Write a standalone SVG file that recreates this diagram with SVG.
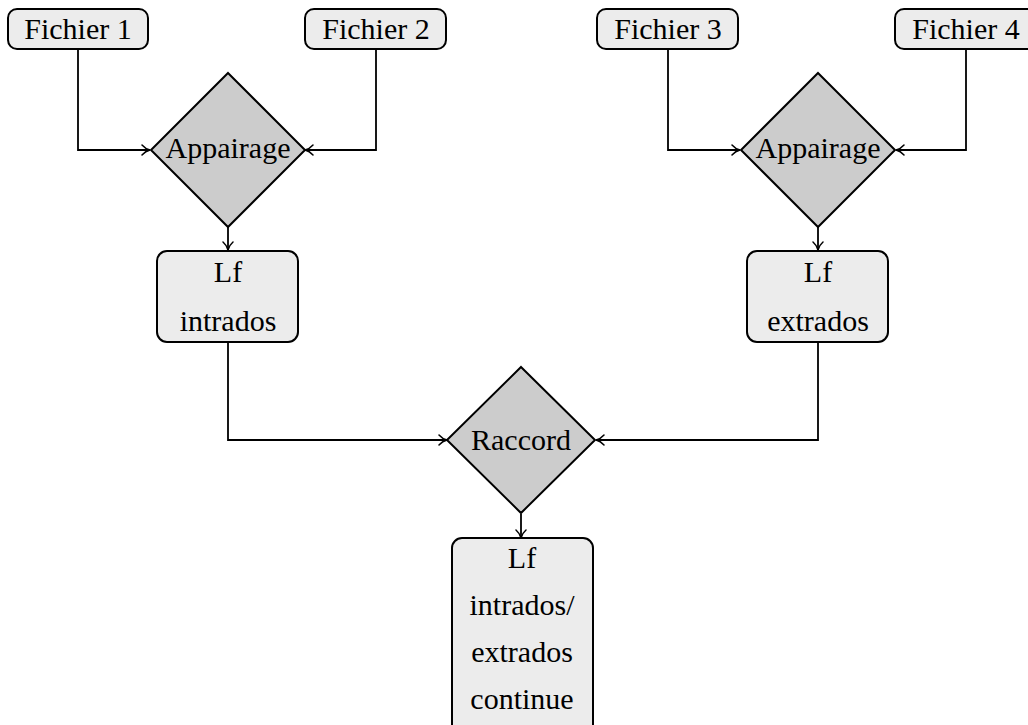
<svg xmlns="http://www.w3.org/2000/svg" width="1028" height="725" viewBox="0 0 1028 725">
<defs>
<marker id="arr" viewBox="0 0 12 12" refX="10.5" refY="6" markerWidth="12" markerHeight="12" markerUnits="userSpaceOnUse" orient="auto">
<path d="M2.5,1 Q6,5 10.5,6 Q6,7 2.5,11" fill="none" stroke="#000" stroke-width="1.5" stroke-linecap="round"/>
</marker>
</defs>
<style>
.box{fill:#ececec;stroke:#000;stroke-width:2}
.dia{fill:#cccccc;stroke:#000;stroke-width:2}
.c{fill:none;stroke:#000;stroke-width:1.8;marker-end:url(#arr)}
</style>
<rect width="1028" height="725" fill="#fff"/>
<g id="connectors">
<path class="c" d="M78,49 V150 H150"/>
<path class="c" d="M376,49 V150 H305"/>
<path class="c" d="M668,49 V150 H740"/>
<path class="c" d="M966,49 V150 H896"/>
<path class="c" d="M228,227 V250"/>
<path class="c" d="M818,227 V250"/>
<path class="c" d="M228,342 V440 H447"/>
<path class="c" d="M818,342 V440 H596"/>
<path class="c" d="M521,514 V538"/>
</g>
<g id="fichier1"><rect class="box" x="8" y="9" width="140" height="40" rx="9"/><text x="78" y="39" font-family="Liberation Serif" font-size="30" text-anchor="middle">Fichier 1</text></g>
<g id="fichier2"><rect class="box" x="305" y="9" width="141" height="40" rx="9"/><text x="376" y="39" font-family="Liberation Serif" font-size="30" text-anchor="middle">Fichier 2</text></g>
<g id="fichier3"><rect class="box" x="597" y="9" width="141" height="40" rx="9"/><text x="668" y="39" font-family="Liberation Serif" font-size="30" text-anchor="middle">Fichier 3</text></g>
<g id="fichier4"><rect class="box" x="895" y="9" width="141" height="40" rx="9"/><text x="966" y="39" font-family="Liberation Serif" font-size="30" text-anchor="middle">Fichier 4</text></g>
<g id="appairage1"><polygon class="dia" points="228,73 305,150 228,227 151,150"/><text x="228" y="158" font-family="Liberation Serif" font-size="30" text-anchor="middle">Appairage</text></g>
<g id="appairage2"><polygon class="dia" points="818,73 895,150 818,227 741,150"/><text x="818" y="158" font-family="Liberation Serif" font-size="30" text-anchor="middle">Appairage</text></g>
<g id="lfintrados"><rect class="box" x="157" y="251" width="141" height="91" rx="10"/><text x="228" y="282" font-family="Liberation Serif" font-size="30" text-anchor="middle">Lf</text><text x="228" y="331" font-family="Liberation Serif" font-size="30" text-anchor="middle">intrados</text></g>
<g id="lfextrados"><rect class="box" x="747" y="251" width="141" height="91" rx="10"/><text x="818" y="282" font-family="Liberation Serif" font-size="30" text-anchor="middle">Lf</text><text x="818" y="331" font-family="Liberation Serif" font-size="30" text-anchor="middle">extrados</text></g>
<g id="raccord"><polygon class="dia" points="521,367 595,440 521,513 447,440"/><text x="521" y="450" font-family="Liberation Serif" font-size="30" text-anchor="middle">Raccord</text></g>
<g id="lfcontinue"><rect class="box" x="452" y="538" width="141" height="200" rx="10"/><text x="522" y="568" font-family="Liberation Serif" font-size="30" text-anchor="middle">Lf</text><text x="522" y="615" font-family="Liberation Serif" font-size="30" text-anchor="middle">intrados/</text><text x="522" y="662" font-family="Liberation Serif" font-size="30" text-anchor="middle">extrados</text><text x="522" y="709" font-family="Liberation Serif" font-size="30" text-anchor="middle">continue</text></g>
</svg>
